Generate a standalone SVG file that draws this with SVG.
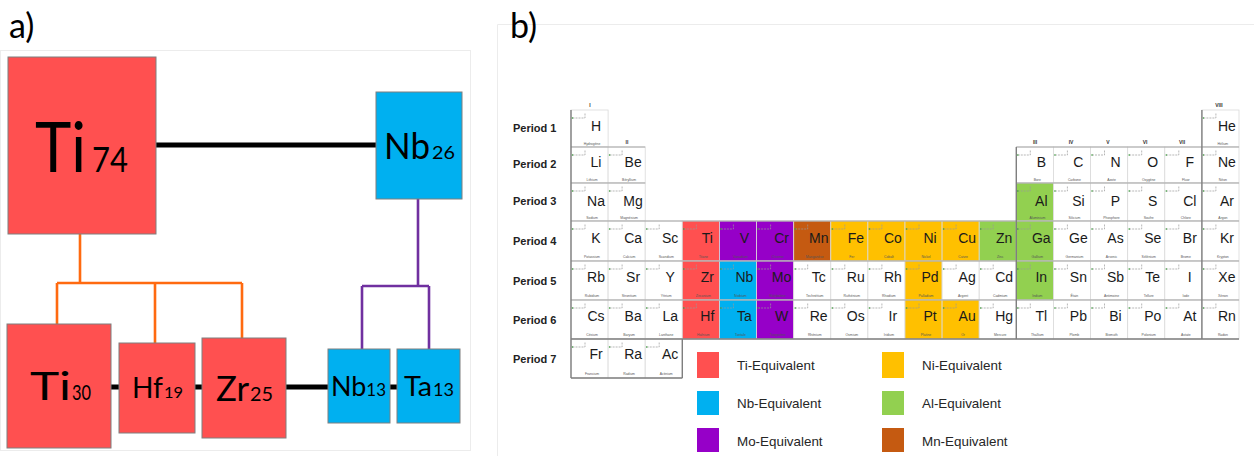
<svg xmlns="http://www.w3.org/2000/svg" xmlns:xlink="http://www.w3.org/1999/xlink" width="1254" height="456" viewBox="0 0 1254 456">
<style>
.bg{fill:#fff}
.frame{fill:none;stroke:#ececec;stroke-width:1}
.box{stroke:#7f7f7f;stroke-width:1}
.red{fill:#ff5050}
.blue{fill:#00b0f0}
.big{font-family:Lato,"Open Sans",sans-serif;fill:#000}
.lbl{font-family:Lato,"Open Sans",sans-serif;fill:#000;font-size:34px}
.blk{stroke:#000;stroke-width:5;fill:none}
.org{stroke:#ff6a10;stroke-width:2.6;fill:none}
.pur{stroke:#7030a0;stroke-width:2.6;fill:none}
.c{stroke:#d9d9d9;stroke-width:.8}
.w{fill:#fff}
.tr{fill:#ff5050}
.tb{fill:#00b0f0}
.tp{fill:#9600c8}
.to{fill:#ffc000}
.tg{fill:#92d050}
.tm{fill:#c55a11}
.sym{font-family:"Liberation Sans",Arial,sans-serif;font-size:14px;fill:#1a1a1a;text-anchor:middle}
.nm{font-family:"Liberation Sans",Arial,sans-serif;font-size:3.4px;fill:#555;text-anchor:middle}
.grp{font-family:"Liberation Sans",Arial,sans-serif;font-size:5px;font-weight:bold;fill:#333;text-anchor:middle}
.per{font-family:"Liberation Sans",Arial,sans-serif;font-size:11px;font-weight:bold;fill:#222}
.leg{font-family:"Liberation Sans",Arial,sans-serif;font-size:13.4px;fill:#262626}
.hl{stroke:#a6a6a6;stroke-width:1.2}
.vl{stroke:#7f7f7f;stroke-width:1.4}
</style>
<defs>
<g id="mk"><path d="M1.5,8H14V2.5" fill="none" stroke="#9a9a9a" stroke-width=".7" stroke-dasharray="2 1"/><circle cx="1.5" cy="8" r=".8" fill="#3a9a3a"/></g>
</defs>
<rect class="bg" width="1254" height="456"/>
<rect class="frame" x="0.5" y="50.5" width="470" height="400"/>
<path class="frame" d="M497.5,456V24.5H1254"/>
<text class="lbl" x="9" y="38">a)</text>
<text class="lbl" x="510" y="38">b)</text>

<g id="connectors">
<path class="blk" d="M156,145H376"/>
<path class="blk" d="M111,387H397"/>
<path class="org" d="M80,234V283M57,283H242M57,283V324M155,283V343M242,283V338"/>
<path class="pur" d="M418,199V286M362,286H429M362,286V349M429,286V349"/>
</g>

<g id="n-ti74"><rect class="box red" x="8" y="57" width="148" height="177"/><text class="big" x="35" y="172" font-size="70" textLength="51" lengthAdjust="spacingAndGlyphs">Ti</text><text class="big" x="92" y="172" font-size="34" textLength="36" lengthAdjust="spacingAndGlyphs">74</text></g>
<g id="n-nb26"><rect class="box blue" x="376" y="92" width="86" height="107"/><text class="big" x="384" y="159" font-size="37" textLength="46" lengthAdjust="spacingAndGlyphs">Nb</text><text class="big" x="432" y="159" font-size="18" textLength="23" lengthAdjust="spacingAndGlyphs">26</text></g>
<g id="n-ti30"><rect class="box red" x="7" y="324" width="104" height="124"/><text class="big" x="30" y="400" font-size="39" textLength="41" lengthAdjust="spacingAndGlyphs">Ti</text><text class="big" x="72" y="400" font-size="21" textLength="19" lengthAdjust="spacingAndGlyphs">30</text></g>
<g id="n-hf19"><rect class="box red" x="119" y="343" width="76" height="90"/><text class="big" x="132" y="398" font-size="28" textLength="31" lengthAdjust="spacingAndGlyphs">Hf</text><text class="big" x="164" y="398" font-size="15" textLength="19" lengthAdjust="spacingAndGlyphs">19</text></g>
<g id="n-zr25"><rect class="box red" x="202" y="338" width="84" height="100"/><text class="big" x="216" y="401" font-size="35" textLength="33" lengthAdjust="spacingAndGlyphs">Zr</text><text class="big" x="250" y="401" font-size="19" textLength="23" lengthAdjust="spacingAndGlyphs">25</text></g>
<g id="n-nb13"><rect class="box blue" x="328" y="349" width="62" height="74"/><text class="big" x="331" y="396" textLength="55" lengthAdjust="spacingAndGlyphs"><tspan font-size="27">Nb</tspan><tspan font-size="17">13</tspan></text></g>
<g id="n-ta13"><rect class="box blue" x="397" y="349" width="63" height="74"/><text class="big" x="404" y="396" font-size="27" textLength="28" lengthAdjust="spacingAndGlyphs">Ta</text><text class="big" x="433" y="396" font-size="17" textLength="21" lengthAdjust="spacingAndGlyphs">13</text></g>

<g id="periods">
<text class="per" x="513" y="132">Period 1</text>
<text class="per" x="513" y="168">Period 2</text>
<text class="per" x="513" y="205">Period 3</text>
<text class="per" x="513" y="245">Period 4</text>
<text class="per" x="513" y="285">Period 5</text>
<text class="per" x="513" y="324">Period 6</text>
<text class="per" x="513" y="363">Period 7</text>
</g>

<g id="table">
<!-- Row 1 -->
<g id="el-H" transform="translate(571,110)"><rect class="c w" width="37.1" height="37"/><use href="#mk"/><text class="sym" x="25" y="21">H</text><text class="nm" x="21" y="34.5">Hydrogène</text></g>
<g id="el-He" transform="translate(1201.9,110)"><rect class="c w" width="37.1" height="37"/><use href="#mk"/><text class="sym" x="25" y="21">He</text><text class="nm" x="21" y="34.5">Hélium</text></g>
<!-- Row 2 -->
<g id="el-Li" transform="translate(571,147)"><rect class="c w" width="37.1" height="36"/><use href="#mk"/><text class="sym" x="25" y="20">Li</text><text class="nm" x="21" y="33.5">Lithium</text></g>
<g id="el-Be" transform="translate(608.1,147)"><rect class="c w" width="37.1" height="36"/><use href="#mk"/><text class="sym" x="25" y="20">Be</text><text class="nm" x="21" y="33.5">Béryllium</text></g>
<g id="el-B" transform="translate(1016.3,147)"><rect class="c w" width="37.1" height="36"/><use href="#mk"/><text class="sym" x="25" y="20">B</text><text class="nm" x="21" y="33.5">Bore</text></g>
<g id="el-C" transform="translate(1053.4,147)"><rect class="c w" width="37.1" height="36"/><use href="#mk"/><text class="sym" x="25" y="20">C</text><text class="nm" x="21" y="33.5">Carbone</text></g>
<g id="el-N" transform="translate(1090.5,147)"><rect class="c w" width="37.1" height="36"/><use href="#mk"/><text class="sym" x="25" y="20">N</text><text class="nm" x="21" y="33.5">Azote</text></g>
<g id="el-O" transform="translate(1127.7,147)"><rect class="c w" width="37.1" height="36"/><use href="#mk"/><text class="sym" x="25" y="20">O</text><text class="nm" x="21" y="33.5">Oxygène</text></g>
<g id="el-F" transform="translate(1164.8,147)"><rect class="c w" width="37.1" height="36"/><use href="#mk"/><text class="sym" x="25" y="20">F</text><text class="nm" x="21" y="33.5">Fluor</text></g>
<g id="el-Ne" transform="translate(1201.9,147)"><rect class="c w" width="37.1" height="36"/><use href="#mk"/><text class="sym" x="25" y="20">Ne</text><text class="nm" x="21" y="33.5">Néon</text></g>
<!-- Row 3 -->
<g id="el-Na" transform="translate(571,183)"><rect class="c w" width="37.1" height="38"/><use href="#mk"/><text class="sym" x="25" y="23">Na</text><text class="nm" x="21" y="35.5">Sodium</text></g>
<g id="el-Mg" transform="translate(608.1,183)"><rect class="c w" width="37.1" height="38"/><use href="#mk"/><text class="sym" x="25" y="23">Mg</text><text class="nm" x="21" y="35.5">Magnésium</text></g>
<g id="el-Al" transform="translate(1016.3,183)"><rect class="c tg" width="37.1" height="38"/><use href="#mk"/><text class="sym" x="25" y="23">Al</text><text class="nm" x="21" y="35.5">Aluminium</text></g>
<g id="el-Si" transform="translate(1053.4,183)"><rect class="c w" width="37.1" height="38"/><use href="#mk"/><text class="sym" x="25" y="23">Si</text><text class="nm" x="21" y="35.5">Silicium</text></g>
<g id="el-P" transform="translate(1090.5,183)"><rect class="c w" width="37.1" height="38"/><use href="#mk"/><text class="sym" x="25" y="23">P</text><text class="nm" x="21" y="35.5">Phosphore</text></g>
<g id="el-S" transform="translate(1127.7,183)"><rect class="c w" width="37.1" height="38"/><use href="#mk"/><text class="sym" x="25" y="23">S</text><text class="nm" x="21" y="35.5">Soufre</text></g>
<g id="el-Cl" transform="translate(1164.8,183)"><rect class="c w" width="37.1" height="38"/><use href="#mk"/><text class="sym" x="25" y="23">Cl</text><text class="nm" x="21" y="35.5">Chlore</text></g>
<g id="el-Ar" transform="translate(1201.9,183)"><rect class="c w" width="37.1" height="38"/><use href="#mk"/><text class="sym" x="25" y="23">Ar</text><text class="nm" x="21" y="35.5">Argon</text></g>
<!-- Row 4 -->
<g id="el-K" transform="translate(571,221)"><rect class="c w" width="37.1" height="40"/><use href="#mk"/><text class="sym" x="25" y="22">K</text><text class="nm" x="21" y="37">Potassium</text></g>
<g id="el-Ca" transform="translate(608.1,221)"><rect class="c w" width="37.1" height="40"/><use href="#mk"/><text class="sym" x="25" y="22">Ca</text><text class="nm" x="21" y="37">Calcium</text></g>
<g id="el-Sc" transform="translate(645.2,221)"><rect class="c w" width="37.1" height="40"/><use href="#mk"/><text class="sym" x="25" y="22">Sc</text><text class="nm" x="21" y="37">Scandium</text></g>
<g id="el-Ti" transform="translate(682.3,221)"><rect class="c tr" width="37.1" height="40"/><use href="#mk"/><text class="sym" x="25" y="22">Ti</text><text class="nm" x="21" y="37">Titane</text></g>
<g id="el-V" transform="translate(719.4,221)"><rect class="c tp" width="37.1" height="40"/><use href="#mk"/><text class="sym" x="25" y="22">V</text><text class="nm" x="21" y="37">Vanadium</text></g>
<g id="el-Cr" transform="translate(756.6,221)"><rect class="c tp" width="37.1" height="40"/><use href="#mk"/><text class="sym" x="25" y="22">Cr</text><text class="nm" x="21" y="37">Chrome</text></g>
<g id="el-Mn" transform="translate(793.7,221)"><rect class="c tm" width="37.1" height="40"/><use href="#mk"/><text class="sym" x="25" y="22">Mn</text><text class="nm" x="21" y="37">Manganèse</text></g>
<g id="el-Fe" transform="translate(830.8,221)"><rect class="c to" width="37.1" height="40"/><use href="#mk"/><text class="sym" x="25" y="22">Fe</text><text class="nm" x="21" y="37">Fer</text></g>
<g id="el-Co" transform="translate(867.9,221)"><rect class="c to" width="37.1" height="40"/><use href="#mk"/><text class="sym" x="25" y="22">Co</text><text class="nm" x="21" y="37">Cobalt</text></g>
<g id="el-Ni" transform="translate(905,221)"><rect class="c to" width="37.1" height="40"/><use href="#mk"/><text class="sym" x="25" y="22">Ni</text><text class="nm" x="21" y="37">Nickel</text></g>
<g id="el-Cu" transform="translate(942.1,221)"><rect class="c to" width="37.1" height="40"/><use href="#mk"/><text class="sym" x="25" y="22">Cu</text><text class="nm" x="21" y="37">Cuivre</text></g>
<g id="el-Zn" transform="translate(979.2,221)"><rect class="c tg" width="37.1" height="40"/><use href="#mk"/><text class="sym" x="25" y="22">Zn</text><text class="nm" x="21" y="37">Zinc</text></g>
<g id="el-Ga" transform="translate(1016.3,221)"><rect class="c tg" width="37.1" height="40"/><use href="#mk"/><text class="sym" x="25" y="22">Ga</text><text class="nm" x="21" y="37">Gallium</text></g>
<g id="el-Ge" transform="translate(1053.4,221)"><rect class="c w" width="37.1" height="40"/><use href="#mk"/><text class="sym" x="25" y="22">Ge</text><text class="nm" x="21" y="37">Germanium</text></g>
<g id="el-As" transform="translate(1090.5,221)"><rect class="c w" width="37.1" height="40"/><use href="#mk"/><text class="sym" x="25" y="22">As</text><text class="nm" x="21" y="37">Arsenic</text></g>
<g id="el-Se" transform="translate(1127.7,221)"><rect class="c w" width="37.1" height="40"/><use href="#mk"/><text class="sym" x="25" y="22">Se</text><text class="nm" x="21" y="37">Sélénium</text></g>
<g id="el-Br" transform="translate(1164.8,221)"><rect class="c w" width="37.1" height="40"/><use href="#mk"/><text class="sym" x="25" y="22">Br</text><text class="nm" x="21" y="37">Brome</text></g>
<g id="el-Kr" transform="translate(1201.9,221)"><rect class="c w" width="37.1" height="40"/><use href="#mk"/><text class="sym" x="25" y="22">Kr</text><text class="nm" x="21" y="37">Krypton</text></g>
<!-- Row 5 -->
<g id="el-Rb" transform="translate(571,261)"><rect class="c w" width="37.1" height="39"/><use href="#mk"/><text class="sym" x="25" y="21">Rb</text><text class="nm" x="21" y="36">Rubidium</text></g>
<g id="el-Sr" transform="translate(608.1,261)"><rect class="c w" width="37.1" height="39"/><use href="#mk"/><text class="sym" x="25" y="21">Sr</text><text class="nm" x="21" y="36">Strontium</text></g>
<g id="el-Y" transform="translate(645.2,261)"><rect class="c w" width="37.1" height="39"/><use href="#mk"/><text class="sym" x="25" y="21">Y</text><text class="nm" x="21" y="36">Yttrium</text></g>
<g id="el-Zr" transform="translate(682.3,261)"><rect class="c tr" width="37.1" height="39"/><use href="#mk"/><text class="sym" x="25" y="21">Zr</text><text class="nm" x="21" y="36">Zirconium</text></g>
<g id="el-Nb" transform="translate(719.4,261)"><rect class="c tb" width="37.1" height="39"/><use href="#mk"/><text class="sym" x="25" y="21">Nb</text><text class="nm" x="21" y="36">Niobium</text></g>
<g id="el-Mo" transform="translate(756.6,261)"><rect class="c tp" width="37.1" height="39"/><use href="#mk"/><text class="sym" x="25" y="21">Mo</text><text class="nm" x="21" y="36">Molybdène</text></g>
<g id="el-Tc" transform="translate(793.7,261)"><rect class="c w" width="37.1" height="39"/><use href="#mk"/><text class="sym" x="25" y="21">Tc</text><text class="nm" x="21" y="36">Technétium</text></g>
<g id="el-Ru" transform="translate(830.8,261)"><rect class="c w" width="37.1" height="39"/><use href="#mk"/><text class="sym" x="25" y="21">Ru</text><text class="nm" x="21" y="36">Ruthénium</text></g>
<g id="el-Rh" transform="translate(867.9,261)"><rect class="c w" width="37.1" height="39"/><use href="#mk"/><text class="sym" x="25" y="21">Rh</text><text class="nm" x="21" y="36">Rhodium</text></g>
<g id="el-Pd" transform="translate(905,261)"><rect class="c to" width="37.1" height="39"/><use href="#mk"/><text class="sym" x="25" y="21">Pd</text><text class="nm" x="21" y="36">Palladium</text></g>
<g id="el-Ag" transform="translate(942.1,261)"><rect class="c w" width="37.1" height="39"/><use href="#mk"/><text class="sym" x="25" y="21">Ag</text><text class="nm" x="21" y="36">Argent</text></g>
<g id="el-Cd" transform="translate(979.2,261)"><rect class="c w" width="37.1" height="39"/><use href="#mk"/><text class="sym" x="25" y="21">Cd</text><text class="nm" x="21" y="36">Cadmium</text></g>
<g id="el-In" transform="translate(1016.3,261)"><rect class="c tg" width="37.1" height="39"/><use href="#mk"/><text class="sym" x="25" y="21">In</text><text class="nm" x="21" y="36">Indium</text></g>
<g id="el-Sn" transform="translate(1053.4,261)"><rect class="c w" width="37.1" height="39"/><use href="#mk"/><text class="sym" x="25" y="21">Sn</text><text class="nm" x="21" y="36">Étain</text></g>
<g id="el-Sb" transform="translate(1090.5,261)"><rect class="c w" width="37.1" height="39"/><use href="#mk"/><text class="sym" x="25" y="21">Sb</text><text class="nm" x="21" y="36">Antimoine</text></g>
<g id="el-Te" transform="translate(1127.7,261)"><rect class="c w" width="37.1" height="39"/><use href="#mk"/><text class="sym" x="25" y="21">Te</text><text class="nm" x="21" y="36">Tellure</text></g>
<g id="el-I" transform="translate(1164.8,261)"><rect class="c w" width="37.1" height="39"/><use href="#mk"/><text class="sym" x="25" y="21">I</text><text class="nm" x="21" y="36">Iode</text></g>
<g id="el-Xe" transform="translate(1201.9,261)"><rect class="c w" width="37.1" height="39"/><use href="#mk"/><text class="sym" x="25" y="21">Xe</text><text class="nm" x="21" y="36">Xénon</text></g>
<!-- Row 6 -->
<g id="el-Cs" transform="translate(571,300)"><rect class="c w" width="37.1" height="39"/><use href="#mk"/><text class="sym" x="25" y="21">Cs</text><text class="nm" x="21" y="36">Césium</text></g>
<g id="el-Ba" transform="translate(608.1,300)"><rect class="c w" width="37.1" height="39"/><use href="#mk"/><text class="sym" x="25" y="21">Ba</text><text class="nm" x="21" y="36">Baryum</text></g>
<g id="el-La" transform="translate(645.2,300)"><rect class="c w" width="37.1" height="39"/><use href="#mk"/><text class="sym" x="25" y="21">La</text><text class="nm" x="21" y="36">Lanthane</text></g>
<g id="el-Hf" transform="translate(682.3,300)"><rect class="c tr" width="37.1" height="39"/><use href="#mk"/><text class="sym" x="25" y="21">Hf</text><text class="nm" x="21" y="36">Hafnium</text></g>
<g id="el-Ta" transform="translate(719.4,300)"><rect class="c tb" width="37.1" height="39"/><use href="#mk"/><text class="sym" x="25" y="21">Ta</text><text class="nm" x="21" y="36">Tantale</text></g>
<g id="el-W" transform="translate(756.6,300)"><rect class="c tp" width="37.1" height="39"/><use href="#mk"/><text class="sym" x="25" y="21">W</text><text class="nm" x="21" y="36">Tungstène</text></g>
<g id="el-Re" transform="translate(793.7,300)"><rect class="c w" width="37.1" height="39"/><use href="#mk"/><text class="sym" x="25" y="21">Re</text><text class="nm" x="21" y="36">Rhénium</text></g>
<g id="el-Os" transform="translate(830.8,300)"><rect class="c w" width="37.1" height="39"/><use href="#mk"/><text class="sym" x="25" y="21">Os</text><text class="nm" x="21" y="36">Osmium</text></g>
<g id="el-Ir" transform="translate(867.9,300)"><rect class="c w" width="37.1" height="39"/><use href="#mk"/><text class="sym" x="25" y="21">Ir</text><text class="nm" x="21" y="36">Iridium</text></g>
<g id="el-Pt" transform="translate(905,300)"><rect class="c to" width="37.1" height="39"/><use href="#mk"/><text class="sym" x="25" y="21">Pt</text><text class="nm" x="21" y="36">Platine</text></g>
<g id="el-Au" transform="translate(942.1,300)"><rect class="c to" width="37.1" height="39"/><use href="#mk"/><text class="sym" x="25" y="21">Au</text><text class="nm" x="21" y="36">Or</text></g>
<g id="el-Hg" transform="translate(979.2,300)"><rect class="c w" width="37.1" height="39"/><use href="#mk"/><text class="sym" x="25" y="21">Hg</text><text class="nm" x="21" y="36">Mercure</text></g>
<g id="el-Tl" transform="translate(1016.3,300)"><rect class="c w" width="37.1" height="39"/><use href="#mk"/><text class="sym" x="25" y="21">Tl</text><text class="nm" x="21" y="36">Thallium</text></g>
<g id="el-Pb" transform="translate(1053.4,300)"><rect class="c w" width="37.1" height="39"/><use href="#mk"/><text class="sym" x="25" y="21">Pb</text><text class="nm" x="21" y="36">Plomb</text></g>
<g id="el-Bi" transform="translate(1090.5,300)"><rect class="c w" width="37.1" height="39"/><use href="#mk"/><text class="sym" x="25" y="21">Bi</text><text class="nm" x="21" y="36">Bismuth</text></g>
<g id="el-Po" transform="translate(1127.7,300)"><rect class="c w" width="37.1" height="39"/><use href="#mk"/><text class="sym" x="25" y="21">Po</text><text class="nm" x="21" y="36">Polonium</text></g>
<g id="el-At" transform="translate(1164.8,300)"><rect class="c w" width="37.1" height="39"/><use href="#mk"/><text class="sym" x="25" y="21">At</text><text class="nm" x="21" y="36">Astate</text></g>
<g id="el-Rn" transform="translate(1201.9,300)"><rect class="c w" width="37.1" height="39"/><use href="#mk"/><text class="sym" x="25" y="21">Rn</text><text class="nm" x="21" y="36">Radon</text></g>
<!-- Row 7 -->
<g id="el-Fr" transform="translate(571,339)"><rect class="c w" width="37.1" height="39"/><use href="#mk"/><text class="sym" x="25" y="20">Fr</text><text class="nm" x="21" y="36">Francium</text></g>
<g id="el-Ra" transform="translate(608.1,339)"><rect class="c w" width="37.1" height="39"/><use href="#mk"/><text class="sym" x="25" y="20">Ra</text><text class="nm" x="21" y="36">Radium</text></g>
<g id="el-Ac" transform="translate(645.2,339)"><rect class="c w" width="37.1" height="39"/><use href="#mk"/><text class="sym" x="25" y="20">Ac</text><text class="nm" x="21" y="36">Actinium</text></g>
</g>

<g id="grid-lines">
<path class="hl" d="M571,147H645.2M1016.3,147H1239M571,183H645.2M1016.3,183H1239M571,221H1239M571,261H1239M571,300H1239"/>
<path class="vl" d="M571,110V378M1201.9,110V339M1016.3,147V339M571,339H1239M571,378H682.3M682.3,339V378"/>
</g>

<g id="groups">
<text class="grp" x="590" y="107">I</text>
<text class="grp" x="627" y="144">II</text>
<text class="grp" x="1035" y="144">III</text>
<text class="grp" x="1071" y="144">IV</text>
<text class="grp" x="1108" y="144">V</text>
<text class="grp" x="1145" y="144">VI</text>
<text class="grp" x="1182" y="144">VII</text>
<text class="grp" x="1219" y="107">VIII</text>
</g>

<g id="legend">
<rect class="tr" x="697" y="352" width="22" height="26"/><text class="leg" x="737" y="370">Ti-Equivalent</text>
<rect class="tb" x="697" y="391" width="22" height="24"/><text class="leg" x="737" y="408">Nb-Equivalent</text>
<rect class="tp" x="697" y="428" width="22" height="24"/><text class="leg" x="737" y="446">Mo-Equivalent</text>
<rect class="to" x="882" y="352" width="22" height="26"/><text class="leg" x="922" y="370">Ni-Equivalent</text>
<rect class="tg" x="882" y="391" width="22" height="24"/><text class="leg" x="922" y="408">Al-Equivalent</text>
<rect class="tm" x="882" y="428" width="22" height="24"/><text class="leg" x="922" y="446">Mn-Equivalent</text>
</g>
</svg>
